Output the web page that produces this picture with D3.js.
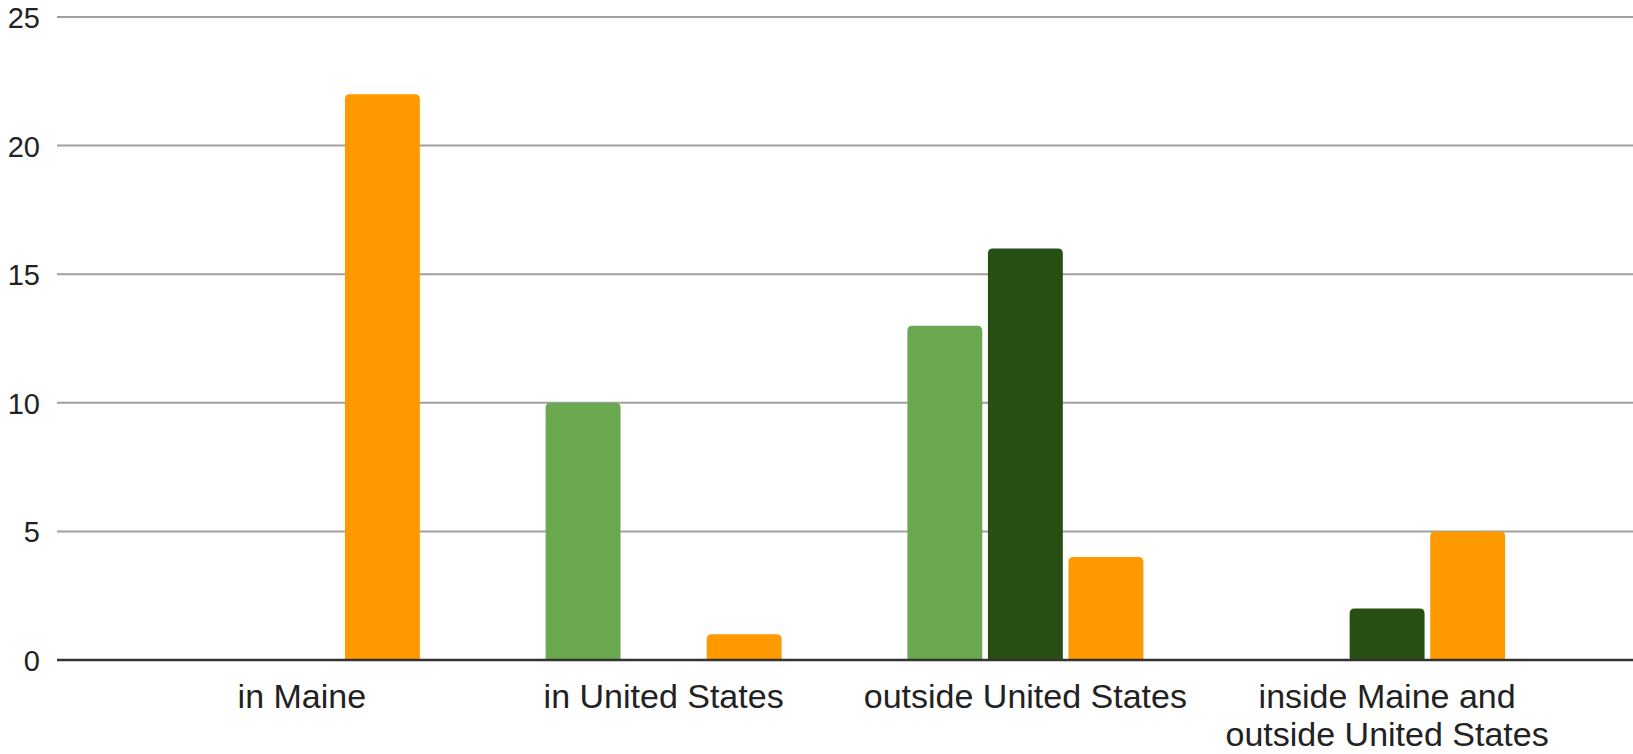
<!DOCTYPE html>
<html>
<head>
<meta charset="utf-8">
<script src="https://cdn.jsdelivr.net/npm/d3@7"></script>
<style>
  html, body { margin: 0; padding: 0; background: #fff; }
  svg { display: block; }
  text { font-family: "Liberation Sans", Arial, sans-serif; fill: #222; }
</style>
</head>
<body>
<svg id="chart" width="1633" height="754"></svg>
<script>
// Categories and series
const categories = ["in Maine", "in United States", "outside United States", "inside Maine and\noutside United States"];
const seriesNames = ["Series A", "Series B", "Series C"];
const seriesColors = ["#6aa84f", "#274e13", "#ff9900"];
const seriesA = [0, 10, 13, 0];
const seriesB = [0, 0, 16, 2];
const seriesC = [22, 1, 4, 5];
const yTicks = [0, 5, 10, 15, 20, 25];

const seriesValues = [seriesA, seriesB, seriesC];

const width = 1633, height = 754;
const gridLeft = 57, gridRight = 1633;
const svg = d3.select("#chart");

const y = d3.scaleLinear().domain([0, 25]).range([660, 17]);
const x0 = d3.scaleBand().domain(categories).range([121, 1568]).padding(0);
const x1 = d3.scaleBand().domain(seriesNames)
  .range([x0.bandwidth() / 2 - 118, x0.bandwidth() / 2 + 118])
  .paddingInner(0.07).paddingOuter(0);

// Gridlines
svg.append("g").selectAll("line")
  .data(yTicks.filter(d => d !== 0))
  .join("line")
  .attr("x1", gridLeft).attr("x2", gridRight)
  .attr("y1", d => y(d)).attr("y2", d => y(d))
  .attr("stroke", "#a0a0a0").attr("stroke-width", 2);

// Y tick labels
const yAxis = d3.axisLeft(y).tickValues(yTicks).tickSize(0).tickPadding(0);
const ya = svg.append("g").attr("transform", "translate(40,0)").call(yAxis);
ya.select(".domain").remove();
ya.selectAll("text")
  .attr("font-size", 29)
  .attr("font-family", "Liberation Sans, Arial, sans-serif")
  .attr("fill", "#222")
  .attr("dy", "0.36em");

// Bars with rounded tops
function barPath(x, w, yTop, yBase, r) {
  const h = yBase - yTop;
  const rr = Math.min(r, h / 2, w / 2);
  return `M${x},${yBase}V${yTop + rr}Q${x},${yTop} ${x + rr},${yTop}H${x + w - rr}Q${x + w},${yTop} ${x + w},${yTop + rr}V${yBase}Z`;
}

const barData = [];
categories.forEach((c, i) => {
  seriesNames.forEach((s, j) => {
    const v = seriesValues[j][i];
    if (v > 0) barData.push({ c, s, v, color: seriesColors[j] });
  });
});

svg.append("g").selectAll("path")
  .data(barData)
  .join("path")
  .attr("d", d => barPath(x0(d.c) + x1(d.s), x1.bandwidth(), y(d.v), y(0), 5))
  .attr("fill", d => d.color);

// Baseline
svg.append("line")
  .attr("x1", gridLeft).attr("x2", gridRight)
  .attr("y1", y(0)).attr("y2", y(0))
  .attr("stroke", "#333").attr("stroke-width", 2.5);

// Category labels
const xl = svg.append("g");
categories.forEach(c => {
  const lines = c.split("\n");
  const t = xl.append("text")
    .attr("text-anchor", "middle")
    .attr("font-size", 34)
    .attr("x", x0(c) + x0.bandwidth() / 2)
    .attr("y", 708);
  lines.forEach((ln, k) => {
    t.append("tspan")
      .attr("x", x0(c) + x0.bandwidth() / 2)
      .attr("dy", k === 0 ? 0 : 38)
      .text(ln);
  });
});
</script>
</body>
</html>
